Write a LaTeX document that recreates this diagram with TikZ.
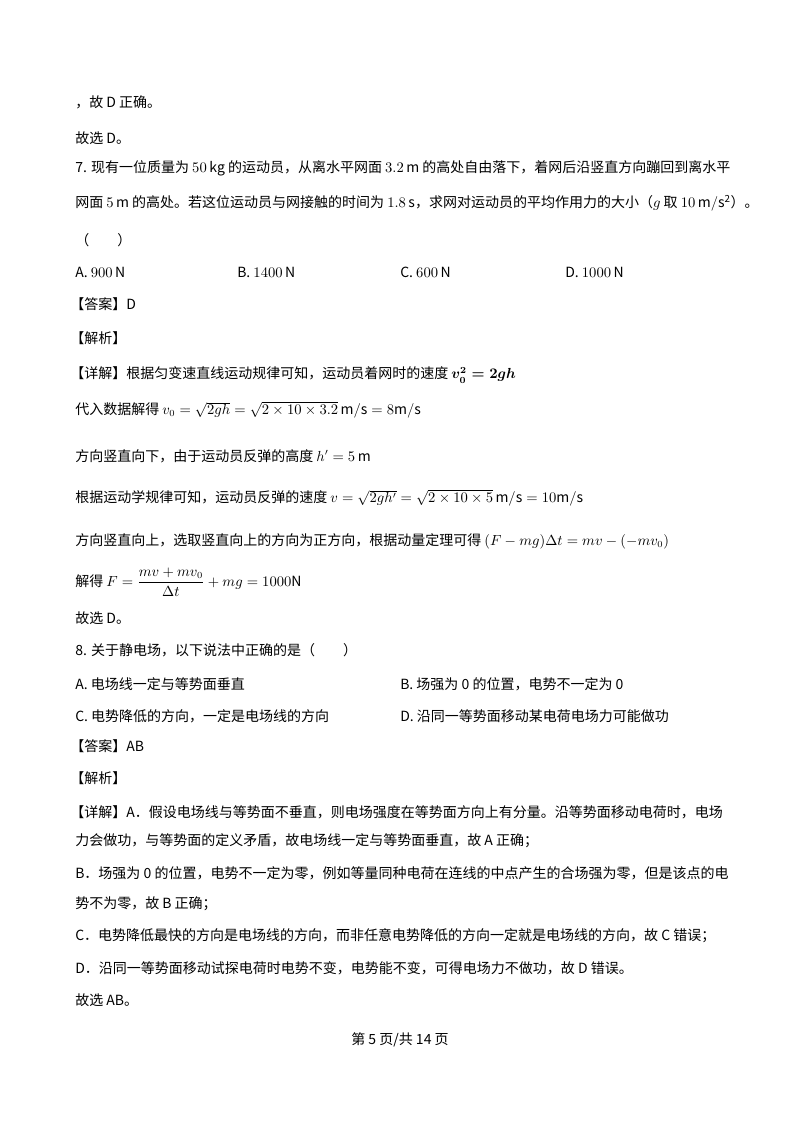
\documentclass[tikz,border=0pt]{standalone}
\usepackage{fontspec}
\usepackage{amsmath}
\setmainfont{Noto Sans CJK SC}
\begin{document}
\begin{tikzpicture}[x=0.75pt,y=-0.75pt,
  t/.style={anchor=west,inner sep=0pt,font=\fontsize{10.5}{12}\selectfont}]
\useasboundingbox[fill=white] (0,0) rectangle (800,1132);
\node[t] (l1) at (75,102) {，故 D 正确。};
\node[t] (l2) at (75,138) {故选 D。};
\node[t] (l3) at (75,168) {7. 现有一位质量为 $50\,\mathrm{kg}$ 的运动员，从离水平网面 $3.2\,\mathrm{m}$ 的高处自由落下，着网后沿竖直方向蹦回到离水平};
\node[t] (l4) at (75,203) {网面 $5\,\mathrm{m}$ 的高处。若这位运动员与网接触的时间为 $1.8\,\mathrm{s}$，求网对运动员的平均作用力的大小（$g$ 取 $10\,\mathrm{m/s^2}$）。};
\node[t] (l5) at (75,240) {（\qquad）};
\node[t] (oa) at (75,272) {A. $900\,\mathrm{N}$};
\node[t] (ob) at (237,272) {B. $1400\,\mathrm{N}$};
\node[t] (oc) at (400,272) {C. $600\,\mathrm{N}$};
\node[t] (od) at (565,272) {D. $1000\,\mathrm{N}$};
\node[t] (ans1) at (70,304) {【答案】D};
\node[t] (jx1) at (70,338) {【解析】};
\node[t] (d1) at (70,375) {【详解】根据匀变速直线运动规律可知，运动员着网时的速度 $\boldsymbol{v_0^2=2gh}$};
\node[t] (d2) at (75,410) {代入数据解得 $v_0=\sqrt{2gh}=\sqrt{2\times10\times3.2}\,\mathrm{m/s}=8\mathrm{m/s}$};
\node[t] (d3) at (75,456) {方向竖直向下，由于运动员反弹的高度 $h'=5\,\mathrm{m}$};
\node[t] (d4) at (75,498) {根据运动学规律可知，运动员反弹的速度 $v=\sqrt{2gh'}=\sqrt{2\times10\times5}\,\mathrm{m/s}=10\mathrm{m/s}$};
\node[t] (d5) at (75,541) {方向竖直向上，选取竖直向上的方向为正方向，根据动量定理可得 $(F-mg)\Delta t=mv-(-mv_0)$};
\node[t] (d6) at (75,582) {解得 $F=\dfrac{mv+mv_0}{\Delta t}+mg=1000\mathrm{N}$};
\node[t] (d7) at (75,618) {故选 D。};
\node[t] (q8) at (75,650) {8. 关于静电场，以下说法中正确的是（\qquad）};
\node[t] (p8a) at (75,684) {A. 电场线一定与等势面垂直};
\node[t] (p8b) at (400,684) {B. 场强为 0 的位置，电势不一定为 0};
\node[t] (p8c) at (75,716) {C. 电势降低的方向，一定是电场线的方向};
\node[t] (p8d) at (400,716) {D. 沿同一等势面移动某电荷电场力可能做功};
\node[t] (ans2) at (70,746) {【答案】AB};
\node[t] (jx2) at (70,778) {【解析】};
\node[t] (e1) at (70,812) {【详解】A．假设电场线与等势面不垂直，则电场强度在等势面方向上有分量。沿等势面移动电荷时，电场};
\node[t] (e2) at (75,841) {力会做功，与等势面的定义矛盾，故电场线一定与等势面垂直，故 A 正确；};
\node[t] (e3) at (75,873) {B．场强为 0 的位置，电势不一定为零，例如等量同种电荷在连线的中点产生的合场强为零，但是该点的电};
\node[t] (e4) at (75,904) {势不为零，故 B 正确；};
\node[t] (e5) at (75,936) {C．电势降低最快的方向是电场线的方向，而非任意电势降低的方向一定就是电场线的方向，故 C 错误；};
\node[t] (e6) at (75,968) {D．沿同一等势面移动试探电荷时电势不变，电势能不变，可得电场力不做功，故 D 错误。};
\node[t] (e7) at (75,1000) {故选 AB。};
\node[inner sep=0pt,font=\fontsize{10.5}{12}\selectfont] (pg) at (400,1040) {第 5 页/共 14 页};
\end{tikzpicture}
\end{document}
